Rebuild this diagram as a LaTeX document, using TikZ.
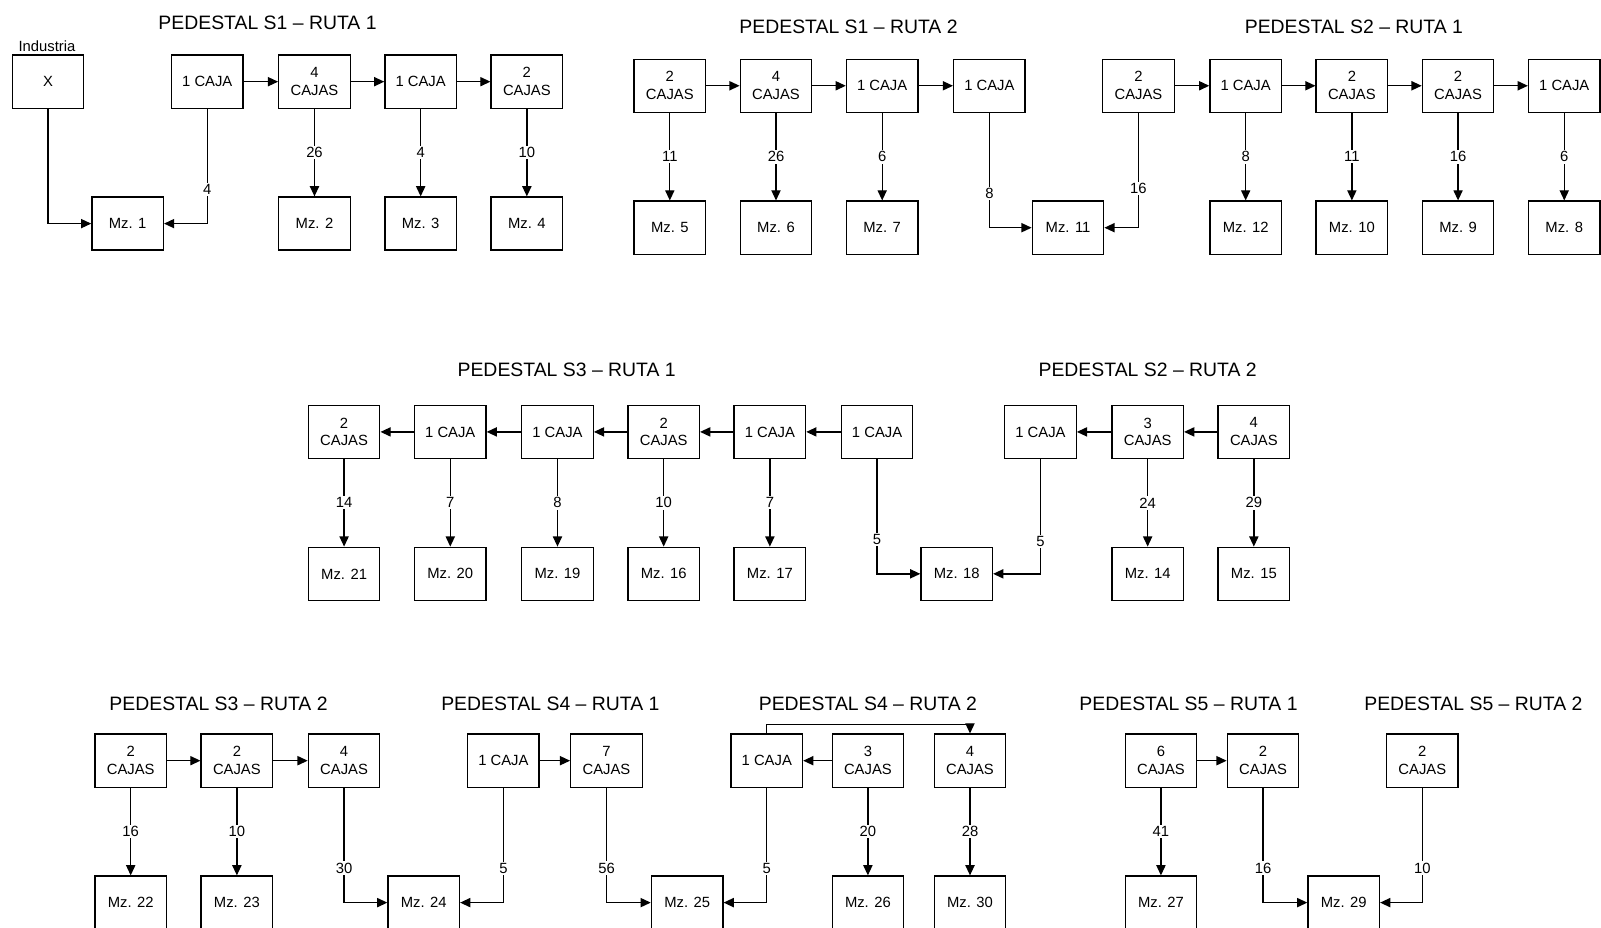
\documentclass[tikz,border=0pt]{standalone}
\usepackage{fontspec}
\setmainfont{Liberation Sans}
\usetikzlibrary{arrows.meta}
\newcommand{\fsbox}{\fontsize{14.5}{17.5}\selectfont}
\newcommand{\fstitle}{\fontsize{19}{22}\selectfont}
\begin{document}
\begin{tikzpicture}[x=1pt,y=-1pt,
  box/.style={draw, line width=1.3pt, minimum width=70pt, minimum height=52pt, inner sep=0pt, align=center, font=\fsbox},
  ttl/.style={font=\fstitle, inner sep=0pt},
  txt/.style={font=\fsbox, inner sep=0pt},
  lbl/.style={fill=white, font=\fsbox, inner sep=1.5pt},
  arr/.style={-{Triangle[length=10pt,width=9pt]}, line width=1.3pt},
  con/.style={line width=1.3pt}]
\useasboundingbox (0,0) rectangle (1568,908);
% titles
\node[ttl] (t1) at (262,22) {PEDESTAL S1 – RUTA 1};
\node[ttl] (t2) at (831,26) {PEDESTAL S1 – RUTA 2};
\node[ttl] (t3) at (1326,26) {PEDESTAL S2 – RUTA 1};
\node[ttl] (t4) at (555,362) {PEDESTAL S3 – RUTA 1};
\node[ttl] (t5) at (1124,362) {PEDESTAL S2 – RUTA 2};
\node[ttl] (t6) at (214,689) {PEDESTAL S3 – RUTA 2};
\node[ttl] (t7) at (539,689) {PEDESTAL S4 – RUTA 1};
\node[ttl] (t8) at (850,689) {PEDESTAL S4 – RUTA 2};
\node[ttl] (t9) at (1164,689) {PEDESTAL S5 – RUTA 1};
\node[ttl] (t10) at (1443,689) {PEDESTAL S5 – RUTA 2};
% ---- S1 R1
\node[txt] (ind) at (46,45) {Industria};
\node[box] (xA) at (47,80) {X};
\node[box] (a1) at (203,80) {1 CAJA};
\node[box] (a2) at (308,80) {4\\CAJAS};
\node[box] (a3) at (412,80) {1 CAJA};
\node[box] (a4) at (516,80) {2\\CAJAS};
\node[box] (m1) at (125,219) {Mz. 1};
\node[box] (m2) at (308,219) {Mz. 2};
\node[box] (m3) at (412,219) {Mz. 3};
\node[box] (m4) at (516,219) {Mz. 4};
\draw[arr] (a1) -- (a2);
\draw[arr] (a2) -- (a3);
\draw[arr] (a3) -- (a4);
\draw[arr] (xA.south) |- (m1.west);
\draw[arr] (a1.south) |- node[lbl,pos=0.35]{4} (m1.east);
\draw[arr] (a2) -- node[lbl]{26} (m2);
\draw[arr] (a3) -- node[lbl]{4} (m3);
\draw[arr] (a4) -- node[lbl]{10} (m4);
% ---- S1 R2
\node[box] (b1) at (656,84) {2\\CAJAS};
\node[box] (b2) at (760,84) {4\\CAJAS};
\node[box] (b3) at (864,84) {1 CAJA};
\node[box] (b4) at (969,84) {1 CAJA};
\node[box] (m5) at (656,223) {Mz. 5};
\node[box] (m6) at (760,223) {Mz. 6};
\node[box] (m7) at (864,223) {Mz. 7};
\node[box] (m11) at (1046,223) {Mz. 11};
\draw[arr] (b1) -- (b2);
\draw[arr] (b2) -- (b3);
\draw[arr] (b3) -- (b4);
\draw[arr] (b1) -- node[lbl]{11} (m5);
\draw[arr] (b2) -- node[lbl]{26} (m6);
\draw[arr] (b3) -- node[lbl]{6} (m7);
\draw[arr] (b4.south) |- node[lbl,pos=0.35]{8} (m11.west);
% ---- S2 R1
\node[box] (c1) at (1115,84) {2\\CAJAS};
\node[box] (c2) at (1220,84) {1 CAJA};
\node[box] (c3) at (1324,84) {2\\CAJAS};
\node[box] (c4) at (1428,84) {2\\CAJAS};
\node[box] (c5) at (1532,84) {1 CAJA};
\node[box] (m12) at (1220,223) {Mz. 12};
\node[box] (m10) at (1324,223) {Mz. 10};
\node[box] (m9) at (1428,223) {Mz. 9};
\node[box] (m8) at (1532,223) {Mz. 8};
\draw[arr] (c1) -- (c2);
\draw[arr] (c2) -- (c3);
\draw[arr] (c3) -- (c4);
\draw[arr] (c4) -- (c5);
\draw[arr] (c1.south) |- node[lbl,pos=0.33]{16} (m11.east);
\draw[arr] (c2) -- node[lbl]{8} (m12);
\draw[arr] (c3) -- node[lbl]{11} (m10);
\draw[arr] (c4) -- node[lbl]{16} (m9);
\draw[arr] (c5) -- node[lbl]{6} (m8);
% ---- S3 R1
\node[box] (d1) at (337,423) {2\\CAJAS};
\node[box] (d2) at (441,423) {1 CAJA};
\node[box] (d3) at (546,423) {1 CAJA};
\node[box] (d4) at (650,423) {2\\CAJAS};
\node[box] (d5) at (754,423) {1 CAJA};
\node[box] (d6) at (859,423) {1 CAJA};
\node[box] (m21) at (337,562) {Mz. 21};
\node[box] (m20) at (441,562) {Mz. 20};
\node[box] (m19) at (546,562) {Mz. 19};
\node[box] (m16) at (650,562) {Mz. 16};
\node[box] (m17) at (754,562) {Mz. 17};
\node[box] (m18) at (937,562) {Mz. 18};
\draw[arr] (d6) -- (d5);
\draw[arr] (d5) -- (d4);
\draw[arr] (d4) -- (d3);
\draw[arr] (d3) -- (d2);
\draw[arr] (d2) -- (d1);
\draw[arr] (d1) -- node[lbl]{14} (m21);
\draw[arr] (d2) -- node[lbl]{7} (m20);
\draw[arr] (d3) -- node[lbl]{8} (m19);
\draw[arr] (d4) -- node[lbl]{10} (m16);
\draw[arr] (d5) -- node[lbl]{7} (m17);
\draw[arr] (d6.south) |- node[lbl,pos=0.35]{5} (m18.west);
% ---- S2 R2
\node[box] (e1) at (1019,423) {1 CAJA};
\node[box] (e2) at (1124,423) {3\\CAJAS};
\node[box] (e3) at (1228,423) {4\\CAJAS};
\node[box] (m14) at (1124,562) {Mz. 14};
\node[box] (m15) at (1228,562) {Mz. 15};
\draw[arr] (e3) -- (e2);
\draw[arr] (e2) -- (e1);
\draw[arr] (e1.south) |- node[lbl,pos=0.36]{5} (m18.east);
\draw[arr] (e2) -- node[lbl]{24} (m14);
\draw[arr] (e3) -- node[lbl]{29} (m15);
% ---- S3 R2
\node[box] (f1) at (128,745) {2\\CAJAS};
\node[box] (f2) at (232,745) {2\\CAJAS};
\node[box] (f3) at (337,745) {4\\CAJAS};
\node[box] (m22) at (128,884) {Mz. 22};
\node[box] (m23) at (232,884) {Mz. 23};
\node[box] (m24) at (415,884) {Mz. 24};
\draw[arr] (f1) -- (f2);
\draw[arr] (f2) -- (f3);
\draw[arr] (f1) -- node[lbl]{16} (m22);
\draw[arr] (f2) -- node[lbl]{10} (m23);
\draw[arr] (f3.south) |- node[lbl,pos=0.35]{30} (m24.west);
% ---- S4 R1
\node[box] (g1) at (493,745) {1 CAJA};
\node[box] (g2) at (594,745) {7\\CAJAS};
\node[box] (m25) at (673,884) {Mz. 25};
\draw[arr] (g1) -- (g2);
\draw[arr] (g1.south) |- node[lbl,pos=0.35]{5} (m24.east);
\draw[arr] (g2.south) |- node[lbl,pos=0.35]{56} (m25.west);
% ---- S4 R2
\node[box] (h1) at (751,745) {1 CAJA};
\node[box] (h2) at (850,745) {3\\CAJAS};
\node[box] (h3) at (950,745) {4\\CAJAS};
\node[box] (m26) at (850,884) {Mz. 26};
\node[box] (m30) at (950,884) {Mz. 30};
\draw[arr] (h2) -- (h1);
\draw[arr] (h1.north) -- ++(0,-9) -| (h3.north);
\draw[arr] (h1.south) |- node[lbl,pos=0.35]{5} (m25.east);
\draw[arr] (h2) -- node[lbl]{20} (m26);
\draw[arr] (h3) -- node[lbl]{28} (m30);
% ---- S5 R1
\node[box] (i1) at (1137,745) {6\\CAJAS};
\node[box] (i2) at (1237,745) {2\\CAJAS};
\node[box] (m27) at (1137,884) {Mz. 27};
\node[box] (m29) at (1316,884) {Mz. 29};
\draw[arr] (i1) -- (i2);
\draw[arr] (i1) -- node[lbl]{41} (m27);
\draw[arr] (i2.south) |- node[lbl,pos=0.35]{16} (m29.west);
% ---- S5 R2
\node[box] (j1) at (1393,745) {2\\CAJAS};
\draw[arr] (j1.south) |- node[lbl,pos=0.35]{10} (m29.east);
\end{tikzpicture}
\end{document}
